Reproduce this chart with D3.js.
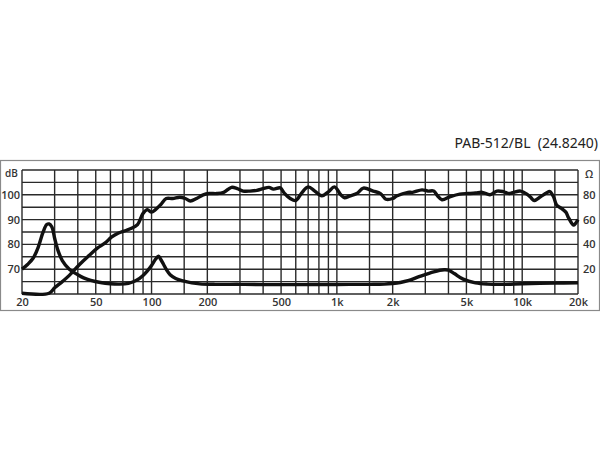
<!DOCTYPE html>
<html><head><meta charset="utf-8">
<script src="https://cdn.jsdelivr.net/npm/d3@7"></script>
<style>
html,body{margin:0;padding:0;background:#fff;}
svg{display:block;}
</style></head>
<body>
<svg id="c" width="600" height="450"></svg>
<script>
// ---- data ----
const title = "PAB-512/BL  (24.8240)";
const freqTicks = [20, 50, 100, 200, 500, 1000, 2000, 5000, 10000, 20000];
const freqTickLabels = ["20", "50", "100", "200", "500", "1k", "2k", "5k", "10k", "20k"];
const freqGrid = [20,30,40,50,60,70,80,90,100,150,200,300,400,500,600,700,800,900,1000,1500,2000,3000,4000,5000,6000,7000,8000,9000,10000,15000,20000];
const dbTicks = [70, 80, 90, 100];
const dbGrid = [60,65,70,75,80,85,90,95,100,105,110];
const ohmTicks = [20, 40, 60, 80];

const splFreq = [20,28,30,33,36,41,46,51,56,61,66,72,78,84,90,95,100,105,112,120,130,142,152,162,175,190,205,225,245,270,290,312,340,370,400,430,455,495,520,560,600,645,700,760,830,900,970,1050,1100,1170,1280,1390,1570,1720,1840,2000,2100,2420,2560,2880,3100,3330,3500,3690,4100,4600,5100,5600,6100,6700,7300,7900,8500,9000,9800,10600,11100,11600,12600,13500,14100,14800,15300,16300,17200,17800,18900,19400,20000];
const splDb = [60.3,60.3,62.5,65,67.5,72,75.5,78.5,80.5,83,84.5,85.5,86.5,88,92.5,94,93,94,96,98.5,98.5,99,98.5,97.5,98.5,100,100.5,100.5,101,103,102.5,101.5,101.5,101.8,102.5,103,102.3,102.8,100.7,98.5,97.7,100.7,103.2,101.5,99.6,101.2,103.2,100,98.8,99.5,100.5,102.7,101.5,100.5,98.2,98.5,99.5,101,101,102,101.5,101.5,99.5,98,99.3,100.3,100.5,100.7,101,100,101.5,101.3,100.5,101,101.5,100.3,99,97.7,99.3,100.7,101.3,99,96,94.5,93,90.7,87.8,88.5,90];

const impFreq = [20,21.5,23,24.5,26,27.2,28,29,30,31.3,33,36,40,43,47,53,60,67,75,83,90,95,100,105,109,112,116,121,126,135,148,165,182,220,300,400,500,700,1000,1500,1800,2000,2200,2420,2800,3330,3790,4000,4300,4800,5600,6500,8000,10000,15000,20000];
const impOhm = [20,24,29,38,50,56,56.5,54,45,35,27,20,15.5,13,11,9.3,8.3,8,8.6,11,15,18.7,23,28,30.5,28,24,19,15.5,12.5,10.5,9,8.2,7.8,7.8,7.6,7.6,7.6,7.7,7.8,8,8.5,9.3,10.7,14.2,17.9,19.5,19.2,16.5,12,9,8,7.8,8.3,8.8,9];

// ---- drawing ----
const svg = d3.select("#c");
const X0 = 22, X1 = 578, Y0 = 170, Y1 = 294;
const x = d3.scaleLog().domain([20, 20000]).range([X0, X1]);
const yDb = d3.scaleLinear().domain([60, 110]).range([Y1, Y0]);
const yOhm = d3.scaleLinear().domain([0, 100]).range([Y1, Y0]);

// outer frame
svg.append("rect").attr("x", 0.5).attr("y", 160.5).attr("width", 599).attr("height", 150)
  .attr("fill", "none").attr("stroke", "#8a8a8a").attr("stroke-width", 1.2);

// title
svg.append("text").attr("x", 598).attr("y", 148).attr("text-anchor", "end")
  .style("white-space", "pre").attr("xml:space", "preserve")
  .attr("font-family", "'Noto Sans', 'Open Sans', sans-serif").attr("font-size", 14)
  .attr("fill", "#222").text(title);

// grid
const grid = svg.append("g").attr("stroke", "#2a2a2a").attr("stroke-width", 1.4);
grid.selectAll(".v").data(freqGrid).join("line")
  .attr("x1", d => x(d)).attr("x2", d => x(d)).attr("y1", Y0).attr("y2", Y1);
grid.selectAll(".h").data(dbGrid).join("line")
  .attr("y1", d => yDb(d)).attr("y2", d => yDb(d)).attr("x1", X0).attr("x2", X1);

const labFont = "'Open Sans', 'Noto Sans', sans-serif";
// bottom axis labels
const ax = svg.append("g").attr("transform", `translate(0,${Y1})`)
  .call(d3.axisBottom(x).tickValues(freqTicks).tickSize(0).tickPadding(4)
    .tickFormat((d, i) => freqTickLabels[i]));
ax.select(".domain").remove();
ax.selectAll("text").attr("font-family", labFont).attr("font-size", 11)
  .attr("font-weight", 600).attr("fill", "#333");

// left axis labels
const al = svg.append("g").attr("transform", `translate(${X0},0)`)
  .call(d3.axisLeft(yDb).tickValues(dbTicks).tickSize(0).tickPadding(2));
al.select(".domain").remove();
al.selectAll("text").attr("font-family", labFont).attr("font-size", 11)
  .attr("font-weight", 600).attr("fill", "#333");
svg.append("text").attr("x", 5).attr("y", 177).attr("font-family", labFont)
  .attr("font-size", 10).attr("font-weight", 600).attr("fill", "#333").text("dB");

// right axis labels
const ar = svg.append("g").attr("transform", `translate(${X1},0)`)
  .call(d3.axisRight(yOhm).tickValues(ohmTicks).tickSize(0).tickPadding(5));
ar.select(".domain").remove();
ar.selectAll("text").attr("font-family", labFont).attr("font-size", 11)
  .attr("font-weight", 600).attr("fill", "#333");
svg.append("text").attr("x", 585).attr("y", 178).attr("font-family", labFont)
  .attr("font-size", 10.5).attr("font-weight", 600).attr("fill", "#333").text("Ω");

// curves
const splLine = d3.line().x(d => x(d[0])).y(d => yDb(d[1])).curve(d3.curveCatmullRom.alpha(0.5));
const impLine = d3.line().x(d => x(d[0])).y(d => yOhm(d[1])).curve(d3.curveCatmullRom.alpha(0.5));
svg.append("path").datum(splFreq.map((f, i) => [f, splDb[i]])).attr("d", splLine)
  .attr("fill", "none").attr("stroke", "#111").attr("stroke-width", 3.4).attr("stroke-linejoin", "round");
svg.append("path").datum(impFreq.map((f, i) => [f, impOhm[i]])).attr("d", impLine)
  .attr("fill", "none").attr("stroke", "#111").attr("stroke-width", 3.4).attr("stroke-linejoin", "round");
</script>
</body></html>
